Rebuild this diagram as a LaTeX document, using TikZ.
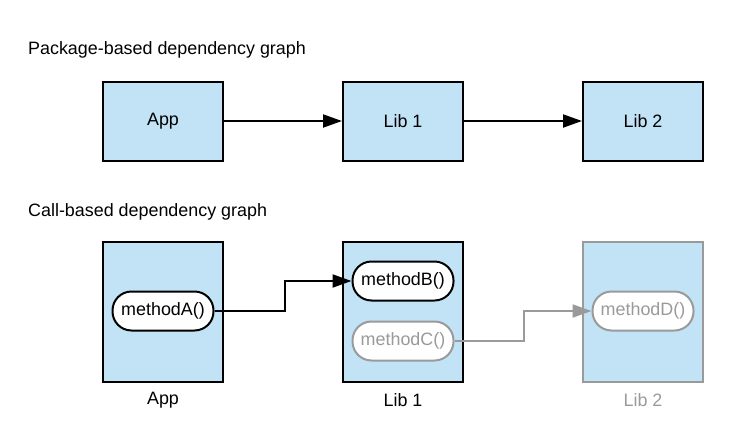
\documentclass[tikz,border=0pt]{standalone}
\usepackage{fontspec}
\setmainfont{Liberation Sans}
\usetikzlibrary{arrows.meta}
\definecolor{boxfill}{HTML}{C2E3F6}
\definecolor{dim}{HTML}{9A9A9A}
\begin{document}
\begin{tikzpicture}[x=1pt,y=-1pt,
  font=\fontsize{17.9}{21}\selectfont,
  pkg/.style={draw=black,line width=2pt,fill=boxfill,minimum width=120pt,minimum height=79pt,inner sep=0pt},
  cont/.style={draw=black,line width=2pt,fill=boxfill,minimum width=120pt,minimum height=140pt,inner sep=0pt},
  meth/.style={draw=black,line width=2pt,fill=white,rounded corners=19pt,minimum width=101pt,minimum height=39pt,inner sep=0pt},
  faded/.style={draw=dim,text=dim},
  arr/.style={line width=2pt,-{Triangle[length=19pt,width=13pt]}},
  title/.style={anchor=west,inner sep=0pt}
]
\useasboundingbox (0,0) rectangle (743,447);
\node[title] (t1) at (28,50) {Package-based dependency graph};
\node[pkg] (app) at (163,121) {App};
\node[pkg] (lib1) at (403,121) {Lib 1};
\node[pkg] (lib2) at (643,121) {Lib 2};
\draw[arr] (app.east) -- (lib1.west);
\draw[arr] (lib1.east) -- (lib2.west);

\node[title] (t2) at (28,212) {Call-based dependency graph};
\node[cont] (capp) at (163,312) {};
\node[cont] (clib1) at (403,312) {};
\node[cont,faded] (clib2) at (643,312) {};
\node (lapp) at (163,400) {App};
\node (llib1) at (403,400) {Lib 1};
\node[text=dim] (llib2) at (643,400) {Lib 2};
\node[meth] (ma) at (163,311) {methodA()};
\node[meth] (mb) at (403,281) {methodB()};
\node[meth,faded] (mc) at (403,341) {methodC()};
\node[meth,faded] (md) at (643,311) {methodD()};
\draw[arr] (ma.east) -- ++(70,0) |- (mb.west);
\draw[arr,draw=dim] (mc.east) -- ++(69,0) |- (md.west);
\end{tikzpicture}
\end{document}
